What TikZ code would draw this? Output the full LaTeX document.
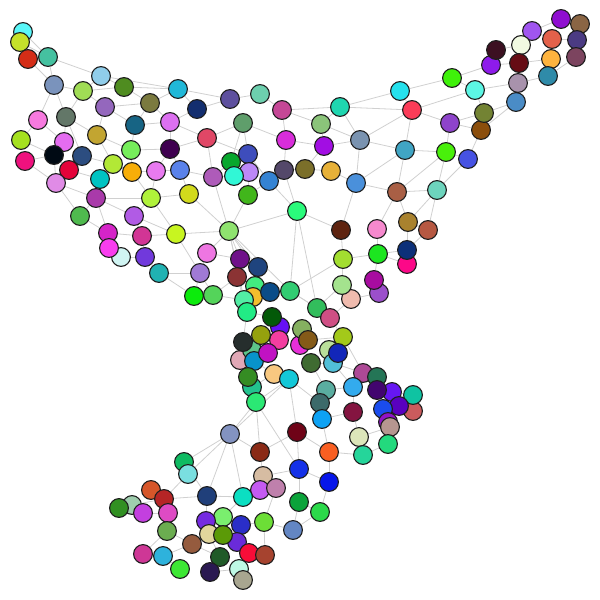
\documentclass[tikz,border=0pt]{standalone}
\usepackage{tikz}
\pgfdeclarelayer{bg}
\pgfsetlayers{bg,main}
\begin{document}
\begin{tikzpicture}[x=0.5mm,y=-0.5mm,
  nd/.style={circle,draw={rgb,255:red,30;green,30;blue,30},line width=0.55mm,minimum size=9.4mm,inner sep=0pt},
  edge/.style={draw={rgb,255:red,208;green,208;blue,208},line width=0.4mm}]
\useasboundingbox (0,0) rectangle (600,600);
\foreach \i/\x/\y/\c in {
1/23/32/5AF7F9, 2/20/42/C5E12B, 3/28/59/D42D17, 4/48/57/45C1A0, 5/54/85/7A93BC,
6/101/76/90CDEA, 7/83/91/A0DC55, 8/124/87/4F8C20, 9/178/89/20B8D8, 10/105/107/9467BD,
11/150/103/7B7A3F, 12/197/109/132E6F, 13/38/120/F77ADF, 14/66/117/637768, 15/135/125/176484,
16/170/122/DC70F0, 17/21/140/A5E01F, 18/64/142/E46CF0, 19/97/135/C2A531, 20/207/138/E04766,
21/25/161/EF117E, 22/54/155/000A14, 23/82/156/2C4D80, 24/131/150/76EE5B, 25/170/149/3F0050,
26/113/164/B2E836, 27/69/170/E4033A, 28/132/172/F7AE09, 29/156/171/E87AF0, 30/180/170/5A82EA,
31/56/183/E08BE6, 32/100/179/00C3C2, 33/96/198/A93AAA, 34/151/198/B0F23A, 35/189/194/D2DA1C,
36/230/99/5E509E, 37/260/94/6DCFAE, 38/282/110/C54796, 39/340/107/1FD6B0, 40/400/91/25E1ED,
41/243/123/5F9E6B, 42/321/124/8BC47A, 43/286/140/D82DDA, 44/324/146/A20EE3, 45/360/140/7A93B0,
46/405/150/40A5C4, 47/248/154/3E4DBC, 48/231/162/08A72E, 49/249/172/BC88F7, 50/234/176/31F7D6,
51/213/177/AE5BB9, 52/284/170/54486A, 53/305/169/7B6F2A, 54/331/171/E7B138, 55/269/181/3483D3,
56/356/183/4A90DB, 57/248/195/41B61B, 58/397/192/A95F45, 59/561/19/8F0ED0, 60/580/24/8A6544,
61/532/31/A055EF, 63/577/40/4B3B83, 62/552/39/E3614A, 64/521/45/F1FAE2, 66/491/65/8E1BEA,
65/496/50/3C1021, 67/519/63/660C14, 68/551/59/FDB33E, 69/576/57/7C445F, 70/452/78/3FF20A,
71/475/90/5CF6E4, 72/518/83/A892AC, 73/548/76/2F8BA9, 74/412/110/FA3C58, 76/516/102/4A8CC6,
77/450/123/8E44CB, 78/481/130/8B4E0C, 75/484/113/738333, 79/446/152/49F00B, 80/468/159/4652E3,
81/437/190/6DD4BD, 82/80/216/4FBA4E, 83/134/216/B15BE5, 84/108/233/D524C8, 85/142/236/D23595,
86/176/234/C8F520, 88/121/257/D0F4F2, 87/109/248/F83DEE, 89/145/257/7139DC, 90/159/273/20B2B2,
91/200/273/A07AD5, 92/194/296/0CEB0C, 93/207/253/EE76E2, 94/297/211/2AFB7B, 95/229/231/8FE36F,
96/341/230/5E2410, 97/377/229/F689CE, 98/408/222/A9822E, 99/428/230/B65842, 100/407/264/FC0888,
101/407/250/0C3079, 102/343/259/A3DE30, 103/378/254/1CE620, 104/240/259/6F1189, 105/258/267/1F447E,
106/237/277/8B3334, 110/351/299/F0BBAE, 107/342/285/A4E38E, 109/379/293/9B4FCB, 108/374/280/A80CA0,
111/213/295/54D45A, 112/255/286/43EC80, 113/253/297/F4BE2D, 114/270/292/0A4C88, 115/290/291/32CC72,
116/244/300/52EDA4, 117/247/312/22EB85, 118/317/308/32BD5C, 119/330/318/CF4F84, 121/280/327/6610F5,
120/272/317/035908, 125/279/340/F33EA0, 126/300/345/E82FD8, 122/302/329/85B060, 127/308/340/845A18,
128/343/337/A3C91A, 129/329/350/BADF9A, 135/333/363/51BFD8, 130/338/353/1226B9, 133/240/360/E1A8B6,
131/252/350/5DC58A, 134/254/361/0893CA, 123/243/342/262E2D, 124/261/335/95A10E, 132/268/353/C112C3,
136/311/363/3F6B31, 137/274/374/F8C880, 138/289/379/13C8D8, 140/252/387/22C38E, 139/248/377/358C23,
141/256/402/2BE874, 142/363/373/AD4996, 143/377/377/247556, 144/353/387/33ABEE, 146/392/392/6617F2,
145/377/390/42056F, 152/413/411/CB5B5D, 147/413/395/0FC3A2, 150/399/406/5900BF, 148/326/390/5AADA0,
149/320/403/3C6A6A, 151/383/409/1A4CED, 153/353/412/841440, 154/322/419/0DA2F4, 155/388/422/9012C7,
156/390/427/B69690, 157/297/432/6F0317, 158/359/437/DCE6BA, 159/388/444/23D97D, 160/329/452/F95F22,
161/363/455/25D59A, 162/230/434/8393C1, 163/260/452/8A2A16, 164/299/469/1431E8, 165/329/482/0716EA,
166/263/476/D6BCA2, 167/260/490/C45AF2, 168/276/488/BF80AC, 169/207/496/203F7A, 170/243/497/0BDFC2,
171/299/502/0BA33A, 172/320/512/2BD94A, 173/264/522/6CDE36, 174/293/530/6386C3, 175/223/517/7AEF6E,
176/206/521/752BE0, 177/241/525/2A2EC8, 178/209/534/E1D69C, 180/237/542/6A2BD9, 179/223/535/5B9A07,
181/249/553/F80D38, 182/265/555/A6432F, 183/220/557/205A28, 184/210/572/2A1951, 185/239/569/BEF9E5,
186/243/580/A8A690, 187/184/462/0FBA62, 188/188/474/7ADFE0, 189/151/490/D6562A, 190/164/499/B52526,
191/132/505/9FCDAE, 192/119/508/319022, 193/143/513/C33FDF, 194/168/513/DE4BC4, 195/167/531/6BAD50,
196/192/544/955B3E, 197/143/554/CE3796, 198/163/556/2EB2DC, 199/180/569/3DE734}
{
  \definecolor{tmpc}{HTML}{\c}
  \node[nd,fill=tmpc] (n\i) at (\x,\y) {};
}
\begin{pgfonlayer}{bg}
\foreach \a/\b in {
1/4,2/4,3/5,4/5,4/6,5/7,5/13,5/14,6/7,6/8,6/9,7/8,7/10,7/14,8/11,8/9,10/11,10/15,10/19,11/9,11/15,11/16,
12/9,12/16,12/36,9/36,36/37,13/17,13/18,14/18,14/23,14/19,15/24,15/16,16/25,16/20,17/22,18/22,21/22,21/31,
22/27,22/31,23/27,23/26,19/26,19/24,24/28,24/25,25/30,25/29,25/20,26/28,26/32,27/31,27/32,28/29,28/34,
29/30,29/34,30/35,32/33,33/31,33/34,34/35,30/51,20/41,20/47,20/51,
37/38,38/39,39/40,38/42,38/43,41/43,41/47,42/44,42/45,43/44,43/52,44/45,44/53,45/46,45/56,39/45,39/42,
39/74,45/74,47/49,47/55,48/51,51/50,52/55,52/53,53/54,54/56,55/57,56/58,46/56,57/49,41/48,
40/70,40/74,74/71,74/77,74/46,70/66,70/71,71/72,71/75,72/67,72/73,72/76,73/68,73/69,64/67,64/61,61/59,
61/62,62/68,63/69,63/60,59/60,65/64,66/67,67/68,65/66,75/76,75/77,78/76,77/79,77/78,78/80,79/80,79/46,
79/81,80/81,46/58,58/81,58/79,62/63,
57/95,51/95,94/95,35/95,86/95,86/83,86/85,86/91,86/34,93/91,93/95,89/90,89/85,90/91,91/92,95/104,95/105,
95/115,95/114,94/115,94/96,94/55,94/52,
96/102,97/103,102/107,103/108,103/101,107/110,108/109,102/103,115/102,118/107,118/119,118/115,119/110,
97/58,98/58,98/81,99/81,98/101,99/101,98/99,101/100,96/56,103/100,109/110,
104/105,104/106,105/112,106/112,112/113,113/114,114/115,116/117,117/120,120/121,121/122,122/127,124/123,
124/125,125/121,126/127,127/128,128/130,129/130,130/135,131/123,132/125,133/134,134/137,136/126,136/135,
137/138,139/133,139/140,140/141,136/148,135/142,142/143,143/145,144/148,144/153,145/146,146/147,150/151,
147/152,150/152,151/155,155/156,148/149,149/154,154/153,153/158,158/156,158/161,156/159,159/161,154/160,
160/157,160/161,141/162,141/163,162/163,163/166,157/164,164/166,160/165,164/165,165/172,164/171,171/172,
166/168,166/167,167/170,168/173,171/174,172/174,173/174,170/169,170/175,173/177,175/176,176/178,177/179,
178/179,179/180,180/181,181/182,182/173,180/177,183/184,184/185,185/186,181/186,183/178,169/187,187/188,
188/190,189/190,190/191,191/192,192/193,193/194,190/194,194/195,195/196,196/198,197/198,198/199,195/197,
196/183,169/190,169/176,162/187,162/169,162/170,162/188,157/163,138/157,141/138,
92/111,111/116,91/111,93/104,106/111,83/33,82/33,82/84,84/88,84/85,85/89,83/85,83/34,88/89,90/92,31/82,
33/84,119/128,135/144,142/144,143/146,142/128,115/118,117/123,116/112,120/124,137/140,138/149,134/139,116/106,
95/116,95/117,94/118,138/162,141/164}
{ \draw[edge] (n\a) -- (n\b); }
\end{pgfonlayer}
\end{tikzpicture}
\end{document}
